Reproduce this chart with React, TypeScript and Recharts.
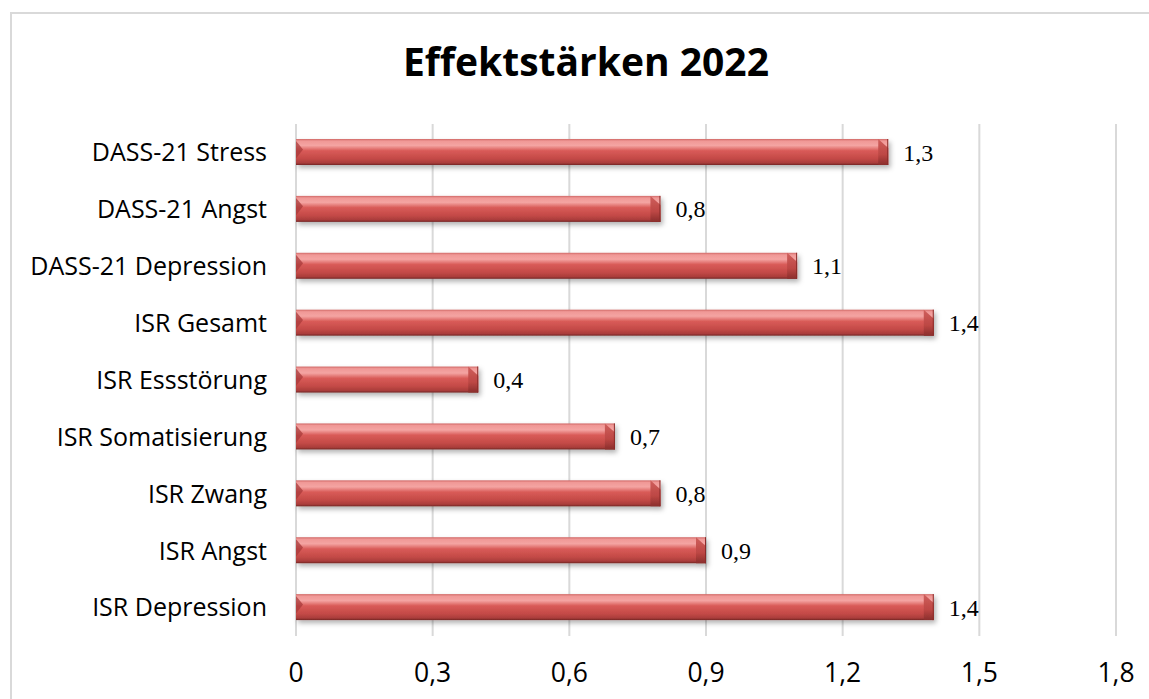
import { BarChart, Bar, XAxis, YAxis, CartesianGrid, LabelList } from "recharts"

const categories = [
  "DASS-21 Stress",
  "DASS-21 Angst",
  "DASS-21 Depression",
  "ISR Gesamt",
  "ISR Essstörung",
  "ISR Somatisierung",
  "ISR Zwang",
  "ISR Angst",
  "ISR Depression",
]
const effectSizes = [1.3, 0.8, 1.1, 1.4, 0.4, 0.7, 0.8, 0.9, 1.4]
const xTicks = [0, 0.3, 0.6, 0.9, 1.2, 1.5, 1.8]

const data = categories.map((name, i) => ({ name, value: effectSizes[i] }))

const sans = "'Open Sans', Lato, sans-serif"
const serif = "'Liberation Serif', 'DejaVu Serif', serif"

const fmt = (v: any) => String(v).replace(".", ",")

// bar with a glossy body, a notch on the left and a bevelled cap on the right
function BevelBar(props: any) {
  const { x, y, width, height } = props
  if (!width || width <= 0) return null
  const c = Math.min(10, width / 2)
  const r = x + width
  return (
    <g filter="url(#barShadow)">
      <rect x={x} y={y} width={width} height={height} fill="url(#barBody)" />
      <polygon
        points={`${x},${y + 2} ${x + 7},${y + height * 0.4} ${x},${y + height * 0.75}`}
        fill="#a8393a"
        opacity={0.75}
      />
      <polygon
        points={`${r - c},${y} ${r},${y + height * 0.35} ${r},${y + height} ${r - c},${y + height}`}
        fill="url(#barCap)"
      />
      <line x1={r - 0.5} y1={y} x2={r - 0.5} y2={y + height} stroke="#8a2c2a" strokeWidth={1} />
    </g>
  )
}

export default function App() {
  return (
    <div style={{ position: "relative", width: 1149, height: 699, overflow: "hidden", background: "#fff" }}>
      <style>{"body{margin:0}"}</style>
      <svg width={0} height={0} style={{ position: "absolute" }}>
        <defs>
          <linearGradient id="barBody" x1="0" y1="0" x2="0" y2="1">
            <stop offset="0" stopColor="#d06866" />
            <stop offset="0.08" stopColor="#f09896" />
            <stop offset="0.25" stopColor="#f4a4a2" />
            <stop offset="0.45" stopColor="#d95b58" />
            <stop offset="0.75" stopColor="#c44a47" />
            <stop offset="0.92" stopColor="#aa3d3b" />
            <stop offset="1" stopColor="#732624" />
          </linearGradient>
          <linearGradient id="barCap" x1="0" y1="0" x2="0" y2="1">
            <stop offset="0" stopColor="#cf5f5c" />
            <stop offset="0.6" stopColor="#bd4744" />
            <stop offset="1" stopColor="#8a2e2c" />
          </linearGradient>
          <filter id="barShadow" x="-5%" y="-30%" width="115%" height="180%">
            <feDropShadow dx="2" dy="3" stdDeviation="2.5" floodColor="#000" floodOpacity="0.3" />
          </filter>
        </defs>
      </svg>
      <div
        style={{
          position: "absolute",
          left: 10,
          top: 12,
          width: 1200,
          height: 720,
          borderLeft: "2px solid #d9d9d9",
          borderTop: "2px solid #d9d9d9",
        }}
      />
      <div
        style={{
          position: "absolute",
          left: 0,
          top: 39,
          width: 1172,
          textAlign: "center",
          fontFamily: sans,
          fontWeight: 700,
          fontSize: 39,
          lineHeight: "44px",
          color: "#000",
        }}
      >
        Effektstärken 2022
      </div>
      <div style={{ position: "absolute", left: 0, top: 0 }}>
        <BarChart
          width={1149}
          height={699}
          data={data}
          layout="vertical"
          margin={{ top: 124, right: 33, bottom: 0, left: 0 }}
        >
          <CartesianGrid horizontal={false} stroke="#d9d9d9" strokeWidth={2} />
          <XAxis
            type="number"
            domain={[0, 1.8]}
            ticks={xTicks}
            interval={0}
            tickFormatter={fmt}
            axisLine={false}
            tickLine={false}
            tickSize={0}
            tickMargin={27}
            height={63}
            tick={{ fill: "#000", fontSize: 26.5, fontFamily: sans }}
          />
          <YAxis
            type="category"
            dataKey="name"
            width={296}
            axisLine={false}
            tickLine={false}
            tickSize={0}
            tickMargin={29}
            interval={0}
            tick={{ fill: "#000", fontSize: 25, fontFamily: sans }}
          />
          <Bar dataKey="value" barSize={26} shape={<BevelBar />} isAnimationActive={false}>
            <LabelList
              dataKey="value"
              position="right"
              offset={15}
              formatter={fmt}
              fill="#000"
              fontSize={24}
              fontFamily={serif}
            />
          </Bar>
        </BarChart>
      </div>
    </div>
  )
}
